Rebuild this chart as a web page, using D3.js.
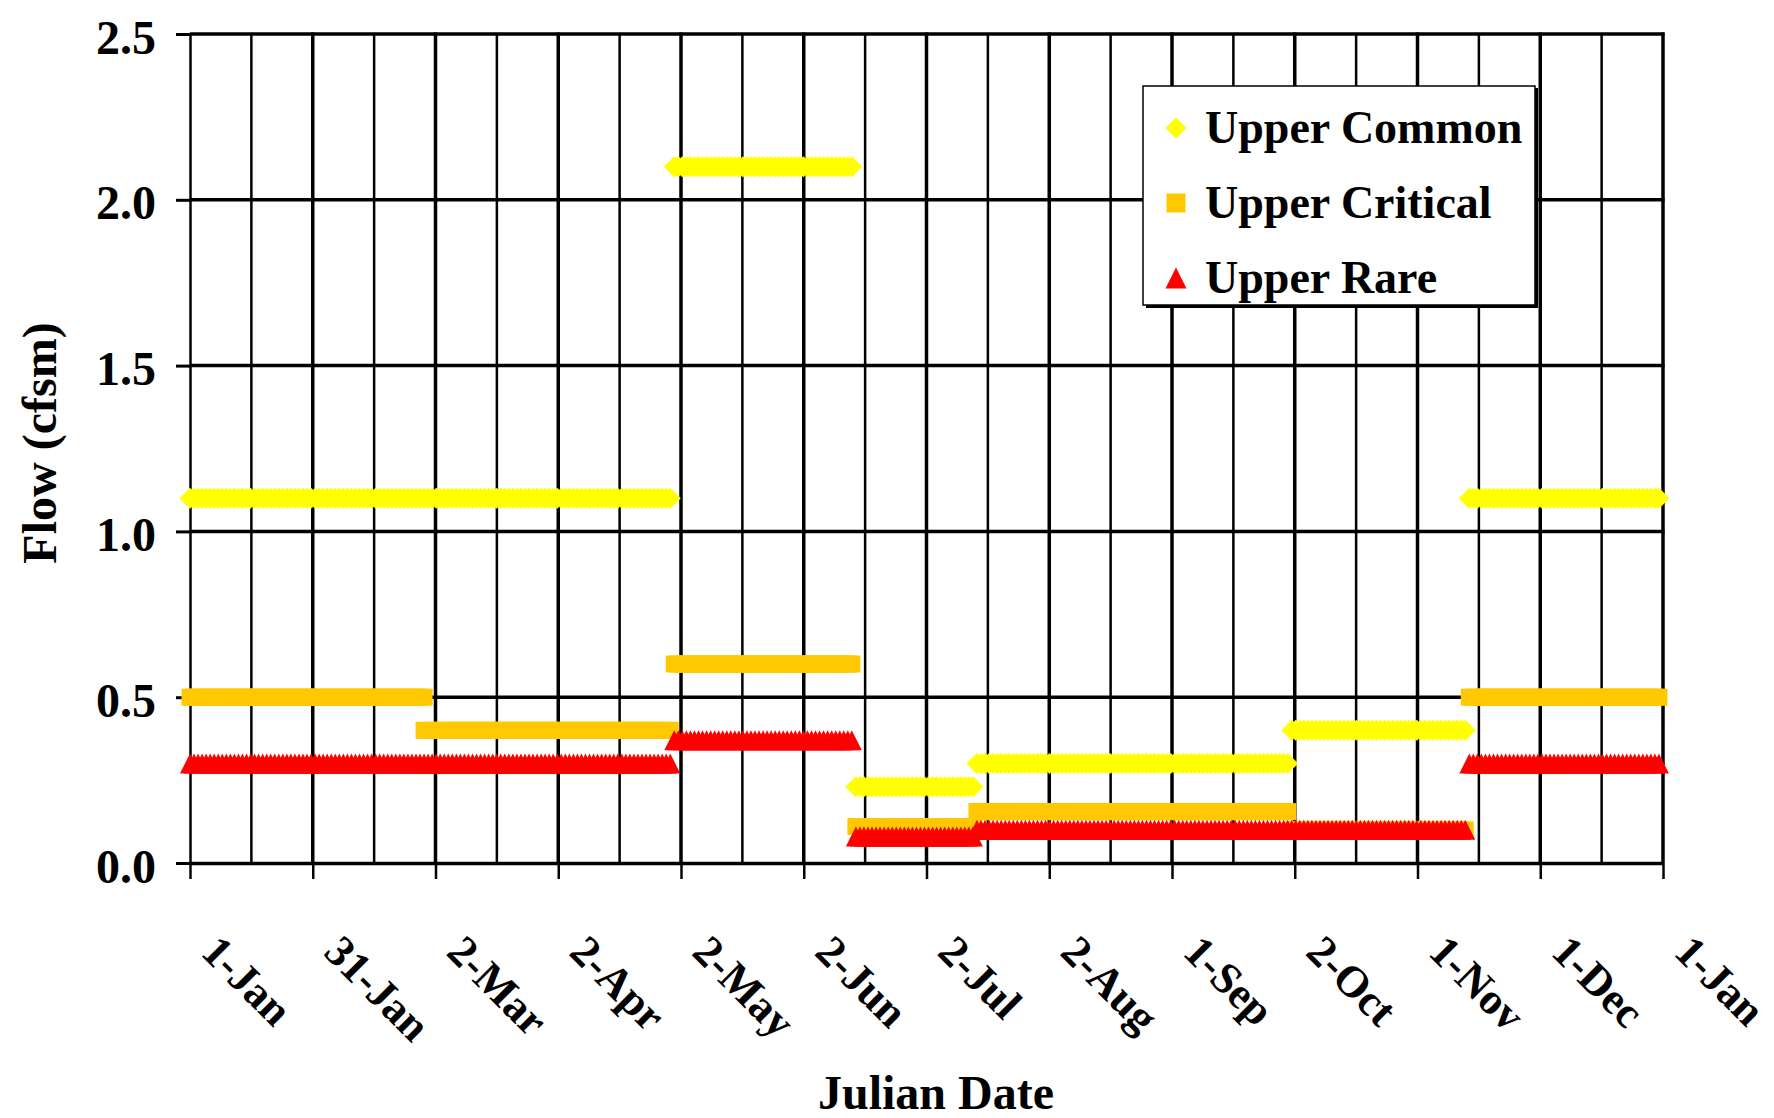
<!DOCTYPE html>
<html><head><meta charset="utf-8">
<script src="https://cdn.jsdelivr.net/npm/d3@7"></script>
<style>
body{margin:0;background:#fff}
svg{display:block}
text{font-family:"Liberation Serif","Times New Roman",serif;font-weight:bold;fill:#000}
</style>
</head><body>
<svg id="chart" width="1774" height="1118"></svg>
<script>
// ---- data ----
const tickLabels = ["1-Jan","31-Jan","2-Mar","2-Apr","2-May","2-Jun","2-Jul","2-Aug","1-Sep","2-Oct","1-Nov","1-Dec","1-Jan"];
const yTickValues = [0, 0.5, 1.0, 1.5, 2.0, 2.5];
const seriesNames = ["Upper Common", "Upper Critical", "Upper Rare"];

// day-of-year runs (Jan 1 = 0), one value per run
const commonStart = [0, 120, 165, 195, 273, 317];
const commonEnd   = [119, 164, 194, 272, 316, 364];
const commonValue = [1.10, 2.10, 0.23, 0.30, 0.40, 1.10];

const criticalStart = [0, 58, 120, 165, 195, 273, 317];
const criticalEnd   = [58, 119, 164, 194, 272, 316, 364];
const criticalValue = [0.50, 0.40, 0.60, 0.11, 0.155, 0.10, 0.50];

const rareStart = [0, 120, 165, 195, 317];
const rareEnd   = [119, 164, 194, 316, 364];
const rareValue = [0.30, 0.37, 0.08, 0.10, 0.30];

// ---- layout ----
const L = 190, R = 1663, T = 34, B = 863;
const svg = d3.select("#chart");

const x = d3.scaleLinear().domain([0, 365]).range([L, R]);
const y = d3.scaleLinear().domain([0, 2.5]).range([B, T]);
const nInt = tickLabels.length - 1;
const tickDays = d3.range(tickLabels.length).map(i => i * 365 / nInt);
const minorDays = d3.range(nInt).map(i => (i + 0.5) * 365 / nInt);

// grid
const grid = svg.append("g");
grid.selectAll("line.minor").data(minorDays).join("line")
  .attr("x1", d => x(d)).attr("x2", d => x(d)).attr("y1", T).attr("y2", B)
  .attr("stroke", "#000").attr("stroke-width", 2.5);
grid.selectAll("line.major").data(tickDays.slice(1)).join("line")
  .attr("x1", d => x(d)).attr("x2", d => x(d)).attr("y1", T - 1.5).attr("y2", B)
  .attr("stroke", "#000").attr("stroke-width", 3.5);
grid.selectAll("line.h").data(yTickValues.slice(1)).join("line")
  .attr("x1", L).attr("x2", R + 1.5).attr("y1", d => y(d)).attr("y2", d => y(d))
  .attr("stroke", "#000").attr("stroke-width", 3.5);

// axes
const xAxis = svg.append("g").attr("transform", `translate(0,${B})`)
  .call(d3.axisBottom(x).tickValues(tickDays).tickFormat((d, i) => tickLabels[i]).tickSize(16).tickSizeOuter(0));
xAxis.select(".domain").attr("stroke", "#000").attr("stroke-width", 3.5);
xAxis.selectAll(".tick line").attr("stroke", "#000").attr("stroke-width", 2.5);
xAxis.selectAll(".tick text")
  .attr("font-size", 44).attr("font-family", null)
  .attr("text-anchor", "start").attr("x", 0).attr("y", 0).attr("dy", null)
  .attr("transform", "translate(9,91) rotate(45)");

const yAxis = svg.append("g").attr("transform", `translate(${L},0)`)
  .call(d3.axisLeft(y).tickValues(yTickValues).tickFormat(d3.format(".1f")).tickSize(14).tickSizeOuter(0));
yAxis.select(".domain").attr("stroke", "#000").attr("stroke-width", 2.5);
yAxis.selectAll(".tick line").attr("stroke", "#000").attr("stroke-width", 3);
yAxis.selectAll(".tick text")
  .attr("font-size", 48).attr("font-family", null)
  .attr("x", -34).attr("dy", null).attr("y", 19);

// titles
svg.append("text").attr("transform", "translate(56,443) rotate(-90)")
  .attr("text-anchor", "middle").attr("font-size", 48).text("Flow (cfsm)");
svg.append("text").attr("x", 936).attr("y", 1109)
  .attr("text-anchor", "middle").attr("font-size", 48).text("Julian Date");

// marker shapes
const diamondType = { draw(ctx, size) { const r = Math.sqrt(size) / 2; ctx.moveTo(0, -r); ctx.lineTo(r, 0); ctx.lineTo(0, r); ctx.lineTo(-r, 0); ctx.closePath(); } };
const triangleType = { draw(ctx, size) { const r = Math.sqrt(size) / 2; ctx.moveTo(0, -r); ctx.lineTo(r, r); ctx.lineTo(-r, r); ctx.closePath(); } };
const squareType = d3.symbolSquare;

function expand(starts, ends, vals) {
  const pts = [];
  starts.forEach((s, i) => d3.range(s, ends[i] + 1).forEach(d => pts.push({ day: d, v: vals[i] })));
  return pts;
}
const series = [
  { name: seriesNames[0], color: "#FFFF00", type: diamondType, size: 21 * 21, pts: expand(commonStart, commonEnd, commonValue) },
  { name: seriesNames[1], color: "#FFC800", type: squareType, size: 17 * 17, pts: expand(criticalStart, criticalEnd, criticalValue) },
  { name: seriesNames[2], color: "#FF0000", type: triangleType, size: 20 * 20, pts: expand(rareStart, rareEnd, rareValue) }
];

const marks = svg.append("g");
series.forEach(s => {
  const path = d3.symbol().type(s.type).size(s.size)();
  marks.append("g").selectAll("path").data(s.pts).join("path")
    .attr("d", path).attr("fill", s.color)
    .attr("transform", d => `translate(${x(d.day)},${y(d.v)})`);
});

// legend
const lg = svg.append("g");
lg.append("rect").attr("x", 1146).attr("y", 88).attr("width", 392).attr("height", 220).attr("fill", "#000");
lg.append("rect").attr("x", 1143).attr("y", 86).attr("width", 392).attr("height", 219)
  .attr("fill", "#fff").attr("stroke", "#000").attr("stroke-width", 1.5);
const rowY = [128, 203, 278];
series.forEach((s, i) => {
  lg.append("path").attr("d", d3.symbol().type(s.type).size(i === 1 ? 19 * 19 : 21 * 21)())
    .attr("fill", s.color).attr("transform", `translate(1176,${rowY[i]})`);
  lg.append("text").attr("x", 1205).attr("y", rowY[i] + 15).attr("font-size", 46).text(s.name);
});
</script>
</body></html>
